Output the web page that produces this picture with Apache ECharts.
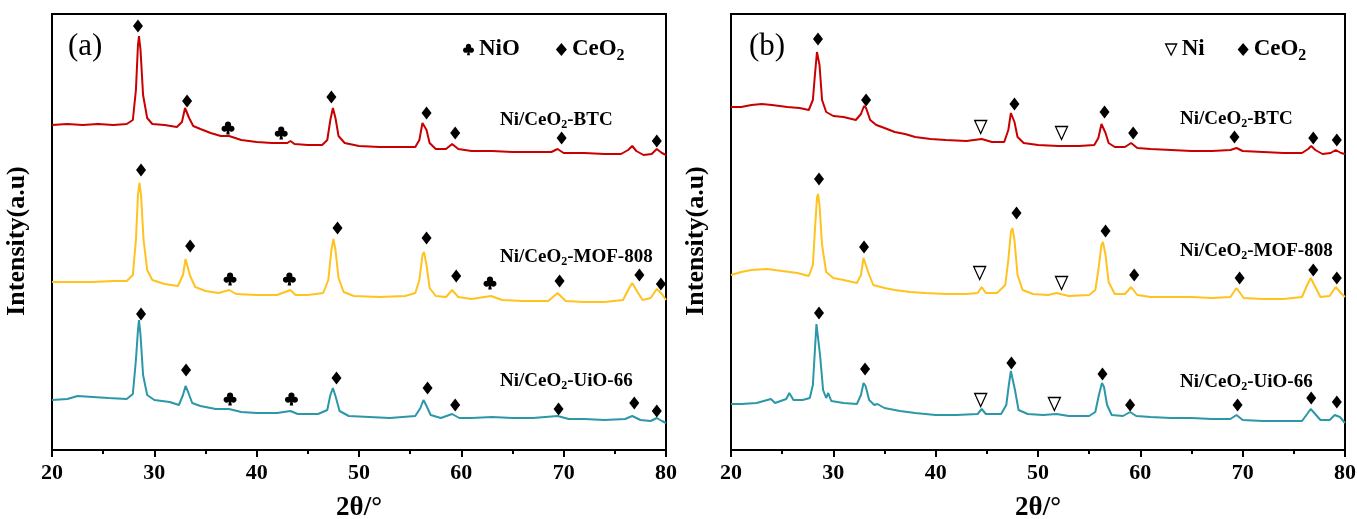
<!DOCTYPE html>
<html>
<head>
<meta charset="utf-8">
<title>XRD patterns of Ni/CeO2 catalysts</title>
<script src="https://cdn.jsdelivr.net/npm/echarts@6/dist/echarts.min.js"></script>
<style>
  html, body { margin: 0; padding: 0; background: #fff; }
  #chart { width: 1357px; height: 519px; }
</style>
</head>
<body>
<div id="chart"></div>
<script>
// XRD patterns, [2θ (°), intensity (a.u., stacked with offsets)]
// (a) calcined samples
const btcA = [
  [20,325],[21.5,326],[23,325],[24.5,326],[26,325],[27.3,326],[27.9,330],[28.2,360],[28.4,405],[28.5,414],
  [28.65,400],[28.9,355],[29.3,332],[29.8,326],[31,325],[32.2,323],[32.7,328],[33.0,342],[33.15,343],[33.4,332],
  [33.8,324],[34.5,321],[35.5,317],[36.5,314],[37.3,314],[38.5,310],[40,308],[41.5,307],[43.0,307],[43.3,309],
  [43.7,306],[45,305],[46.4,305],[46.9,310],[47.2,330],[47.45,342],[47.7,332],[48.0,314],[48.6,307],[50,304],
  [52,303],[54,303],[55.5,303],[55.9,310],[56.2,327],[56.35,329],[56.6,320],[56.9,307],[57.5,301],[58.5,301],
  [59.1,306],[59.7,301],[61,299],[63,299],[65,298],[67,298],[68.8,298],[69.4,301],[70,297],[72,297],
  [74,296],[75.6,296],[76.3,300],[76.7,304],[77.1,299],[77.8,295],[78.6,296],[79.1,301],[79.6,297],[80,295]
];
const mofA = [
  [20,168],[22,168],[24,168],[26,169],[27.3,169],[27.9,175],[28.2,210],[28.4,255],[28.55,267],[28.7,255],
  [28.95,210],[29.3,180],[29.8,170],[31,166],[32.3,164],[32.8,175],[33.05,191],[33.2,190],[33.5,174],[34,163],
  [35,159],[36.3,157],[37.3,160],[38,156],[40,155],[42,155],[43.3,160],[43.8,155],[45,155],[46.5,157],
  [47.0,170],[47.3,200],[47.5,211],[47.7,200],[48.0,172],[48.5,158],[49.5,154],[52,153],[54.5,154],[55.5,157],
  [55.9,170],[56.2,195],[56.35,198],[56.6,185],[56.9,162],[57.5,154],[58.5,153],[59.1,160],[59.7,153],[61,151],
  [62.9,154],[64,150],[66,149],[68.5,149],[69.4,157],[70.2,149],[72,148],[74,148],[75.8,150],[76.4,162],
  [76.7,167],[77.1,160],[77.7,150],[78.5,152],[79.1,161],[79.6,156],[80,150]
];
const uioA = [
  [20,50],[21.5,51],[22.5,54],[24,53],[25.5,52],[27.3,51],[27.9,56],[28.2,90],[28.4,120],[28.5,130],
  [28.65,115],[28.9,75],[29.3,55],[30,50],[31.5,48],[32.4,45],[32.8,55],[33.05,64],[33.3,58],[33.7,47],
  [34.5,44],[36,41],[37.3,41],[38.5,38],[40,37],[42,37],[43.3,39],[44,36],[46,36],[46.9,40],
  [47.2,55],[47.45,62],[47.7,54],[48.1,39],[49,34],[51,33],[53,32],[55.5,34],[56.0,42],[56.3,50],
  [56.6,44],[57,35],[58,32],[59.1,36],[59.8,32],[61,32],[63,33],[65,32],[67,32],[69.4,34],
  [70.5,31],[72,31],[74,30],[76,31],[76.7,34],[77.5,30],[78.5,29],[79.1,32],[79.6,29],[80,27]
];
// (b) reduced samples
const btcB = [
  [20,343],[21,343],[22,345],[23,346],[24,345],[25.5,343],[26.7,342],[27.6,340],[28.0,350],[28.2,375],
  [28.4,398],[28.5,399],[28.65,385],[28.9,350],[29.3,338],[30,334],[31,333],[32.2,330],[32.7,336],[33.0,344],
  [33.2,342],[33.6,330],[34.2,325],[35,322],[36,318],[37,316],[38,313],[39.5,311],[41,310],[43,309],
  [44.5,311],[45.5,308],[46.7,308],[47.1,320],[47.35,337],[47.5,338],[47.7,328],[48.0,313],[48.6,307],[50,305],
  [52,304],[54,304],[55.5,305],[55.9,312],[56.2,326],[56.35,328],[56.6,317],[56.9,307],[57.5,303],[58.5,303],
  [59.1,307],[59.7,302],[61,301],[63,300],[65,299],[67,299],[68.8,300],[69.4,302],[70,299],[72,298],
  [74,297],[75.8,297],[76.4,301],[76.7,304],[77.1,300],[77.8,296],[78.6,297],[79.1,300],[79.6,297],[80,296]
];
const mofB = [
  [20,175],[21,178],[22,180],[23.5,181],[25,179],[26.5,177],[27.6,174],[28.0,185],[28.2,220],[28.4,252],
  [28.5,256],[28.65,245],[28.9,205],[29.3,178],[30,172],[31,170],[32.3,167],[32.7,175],[32.95,192],[33.1,191],
  [33.4,178],[33.9,165],[35,162],[36,160],[37.5,158],[39,157],[41,156],[43,156],[44.1,157],[44.5,163],
  [44.9,157],[46,157],[46.8,165],[47.1,190],[47.35,218],[47.5,222],[47.7,210],[48.0,175],[48.5,160],[49.5,156],
  [51,155],[51.8,157],[53,154],[55,155],[55.6,160],[55.9,180],[56.2,205],[56.35,208],[56.6,195],[56.9,168],
  [57.5,156],[58.5,156],[59.1,163],[59.7,155],[61,153],[63,153],[65,153],[67,152],[68.8,153],[69.4,162],
  [70.1,152],[72,151],[74,151],[75.8,153],[76.3,165],[76.65,172],[77.0,165],[77.6,153],[78.5,154],[79.1,163],
  [79.6,157],[80,153]
];
const uioB = [
  [20,46],[21,46],[22.5,47],[23.9,51],[24.3,47],[25.4,51],[25.7,57],[26.1,50],[27,50],[27.7,52],
  [28.0,65],[28.2,100],[28.35,126],[28.5,124],[28.7,95],[29.0,60],[29.3,52],[29.5,57],[29.8,49],[31,47],
  [32.3,46],[32.7,55],[32.95,67],[33.15,64],[33.5,50],[34,45],[34.3,46],[35,42],[36.5,39],[38,37],
  [40,35],[42,35],[44.1,36],[44.5,41],[44.9,36],[46.4,36],[46.9,45],[47.15,65],[47.35,79],[47.5,78],
  [47.75,60],[48.1,40],[49,36],[50.5,35],[51.8,36],[53,34],[55,34],[55.6,38],[55.95,55],[56.25,67],
  [56.45,63],[56.75,45],[57.2,35],[58.3,34],[59.0,38],[59.6,34],[61,33],[63,32],[65,32],[67,31],
  [68.8,31],[69.4,35],[70,30],[72,29],[74,29],[75.8,29],[76.3,36],[76.65,41],[77.0,37],[77.6,30],
  [78.5,30],[79.0,35],[79.5,33],[80,27]
];

// Phase markers, [2θ, height]
const ceo2MarksA = [
  [28.4,424],[33.2,349],[47.3,353],[56.6,337],[59.4,317],[69.8,312],[79.1,309],
  [28.7,280],[33.5,204],[47.9,222],[56.6,212],[59.5,174],[69.6,169],[77.4,175],[79.5,166],
  [28.7,136],[33.1,80],[47.8,72],[56.7,62],[59.4,45],[69.5,41],[76.9,47],[79.1,39]
];
const nioMarksA = [
  [37.2,322],[42.4,317],
  [37.4,171],[43.2,171],[62.8,167],
  [37.4,51],[43.4,51]
];
const ceo2MarksB = [
  [28.5,411],[33.2,350],[47.7,346],[56.5,338],[59.3,317],[69.2,313],[76.9,312],[79.2,310],
  [28.6,271],[33.0,203],[47.9,237],[56.6,219],[59.4,175],[69.7,172],[76.9,180],[79.2,172],
  [28.6,137],[33.1,81],[47.4,87],[56.3,76],[59.0,45],[69.5,45],[76.7,52],[79.2,48]
];
const niMarksB = [
  [44.4,323],[52.3,317],
  [44.3,177],[52.3,167],
  [44.4,50],[51.6,46]
];

const sampleNames = ['BTC', 'MOF-808', 'UiO-66'];
const sampleColors = ['#c80000', '#ffc21f', '#2b97a8'];
const xTicks = { min: 20, max: 80, interval: 10 };

const SERIF = '"Liberation Serif", "Times New Roman", serif';
// club suit (three lobes and a stem) and an open down-pointing triangle
const clubPath = 'path://M50,6 C61.6,6 71,15.4 71,27 C71,38.6 61.6,48 50,48 C38.4,48 29,38.6 29,27 C29,15.4 38.4,6 50,6 Z ' +
  'M27,36 C38.6,36 48,45.4 48,57 C48,68.6 38.6,78 27,78 C15.4,78 6,68.6 6,57 C6,45.4 15.4,36 27,36 Z ' +
  'M73,36 C84.6,36 94,45.4 94,57 C94,68.6 84.6,78 73,78 C61.4,78 52,68.6 52,57 C52,45.4 61.4,36 73,36 Z ' +
  'M46,46 L54,46 L62,98 L38,98 Z';
const nablaPath = 'path://M0,0 L100,0 L50,100 Z';

const markBlack = { color: '#000', opacity: 1 };
const markOpen = { color: '#fff', borderColor: '#000', borderWidth: 1.3, opacity: 1 };

function xAxisFor(gridIndex) {
  return {
    type: 'value', gridIndex, min: xTicks.min, max: xTicks.max, interval: xTicks.interval,
    name: '2θ/°', nameLocation: 'middle', nameGap: 45,
    nameTextStyle: { fontFamily: SERIF, fontWeight: 'bold', fontSize: 27, color: '#000' },
    axisLine: { show: true, onZero: false, lineStyle: { color: '#000', width: 2 } },
    axisTick: { show: true, inside: false, length: 7, lineStyle: { color: '#000', width: 2 } },
    minorTick: { show: true, splitNumber: 2, length: 4, lineStyle: { color: '#000', width: 2 } },
    splitLine: { show: false },
    axisLabel: { fontFamily: SERIF, fontWeight: 'bold', fontSize: 22, color: '#000', margin: 12 }
  };
}
function yAxisFor(gridIndex) {
  return {
    type: 'value', gridIndex, min: 0, max: 436,
    name: 'Intensity(a.u)', nameLocation: 'middle', nameGap: 22, nameRotate: 90,
    nameTextStyle: { fontFamily: SERIF, fontWeight: 'bold', fontSize: 26, color: '#000', padding: [0, 18, 0, 0] },
    axisLine: { show: true, lineStyle: { color: '#000', width: 2 } },
    axisTick: { show: false }, axisLabel: { show: false }, splitLine: { show: false }
  };
}
function pattern(data, color, idx) {
  return {
    type: 'line', xAxisIndex: idx, yAxisIndex: idx, data, symbol: 'none',
    lineStyle: { color, width: 2 }, z: 2, silent: true
  };
}
function marks(name, data, idx, symbol, size, style, rotate) {
  return {
    type: 'scatter', name, xAxisIndex: idx, yAxisIndex: idx, data, symbol,
    symbolSize: size, symbolRotate: rotate || 0, itemStyle: style, z: 3, silent: true
  };
}
const subRich = {
  a: { fontFamily: SERIF, fontWeight: 'bold', fontSize: 23, color: '#000' },
  s: { fontFamily: SERIF, fontWeight: 'bold', fontSize: 16, color: '#000', padding: [12, 0, 0, 0] }
};
function legendFor(items, left, gap) {
  return {
    left, top: 33, orient: 'horizontal', selectedMode: false, itemGap: gap,
    itemWidth: 11, itemHeight: 13,
    data: items,
    formatter: n => n === 'CeO2' ? '{a|CeO}{s|2}' : '{a|' + n + '}',
    textStyle: { rich: subRich }
  };
}
const labelRich = {
  a: { fontFamily: SERIF, fontWeight: 'bold', fontSize: 19, fill: '#000' },
  s: { fontFamily: SERIF, fontWeight: 'bold', fontSize: 12, fill: '#000', padding: [10, 0, 0, 0] }
};
function sampleLabel(x, y, name) {
  return {
    type: 'text', x, y,
    style: { text: '{a|Ni/CeO}{s|2}{a|-' + name + '}', rich: labelRich, verticalAlign: 'middle' }
  };
}

const panelGrid = { top: 14, width: 614, height: 436, show: true, borderColor: '#000', borderWidth: 2,
  containLabel: false, outerBoundsMode: 'none' };

const option = {
  animation: false,
  backgroundColor: '#fff',
  grid: [
    Object.assign({ left: 52 }, panelGrid),
    Object.assign({ left: 731 }, panelGrid)
  ],
  xAxis: [xAxisFor(0), xAxisFor(1)],
  yAxis: [yAxisFor(0), yAxisFor(1)],
  legend: [
    legendFor([{ name: 'NiO', icon: clubPath }, { name: 'CeO2', icon: 'diamond' }], 458, 36),
    legendFor([{ name: 'Ni', icon: nablaPath, itemStyle: markOpen }, { name: 'CeO2', icon: 'diamond' }], 1160, 33)
  ],
  series: [
    pattern(btcA, sampleColors[0], 0), pattern(mofA, sampleColors[1], 0), pattern(uioA, sampleColors[2], 0),
    pattern(btcB, sampleColors[0], 1), pattern(mofB, sampleColors[1], 1), pattern(uioB, sampleColors[2], 1),
    marks('CeO2', ceo2MarksA, 0, 'diamond', [10, 13], markBlack),
    marks('NiO', nioMarksA, 0, clubPath, [13, 13], markBlack),
    marks('CeO2', ceo2MarksB, 1, 'diamond', [10, 13], markBlack),
    marks('Ni', niMarksB, 1, nablaPath, [12, 13], markOpen)
  ],
  graphic: [
    { type: 'text', x: 68, y: 47, style: { text: '(a)', font: '31px ' + SERIF, fill: '#000', verticalAlign: 'middle' } },
    { type: 'text', x: 749, y: 47, style: { text: '(b)', font: '31px ' + SERIF, fill: '#000', verticalAlign: 'middle' } },
    sampleLabel(500, 120, sampleNames[0]),
    sampleLabel(500, 257, sampleNames[1]),
    sampleLabel(500, 381, sampleNames[2]),
    sampleLabel(1180, 119, sampleNames[0]),
    sampleLabel(1180, 251, sampleNames[1]),
    sampleLabel(1180, 382, sampleNames[2])
  ]
};

const chart = echarts.init(document.getElementById('chart'), null, { renderer: 'canvas' });
chart.setOption(option);
</script>
</body>
</html>
